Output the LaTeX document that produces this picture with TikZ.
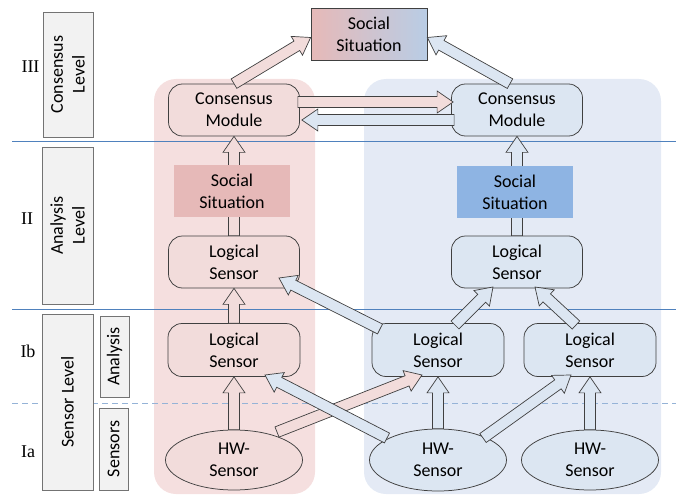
\documentclass[tikz,border=0pt]{standalone}
\usepackage{fontspec}
\setmainfont{Carlito}
\newfontfamily\romfont{Liberation Serif}
\usepackage{tikz}
\usetikzlibrary{calc,shapes.geometric}
\definecolor{panelpink}{RGB}{245,223,223}
\definecolor{panelblue}{RGB}{228,234,245}
\definecolor{modpink}{RGB}{242,220,219}
\definecolor{modblue}{RGB}{220,230,242}
\definecolor{sitpink}{RGB}{230,185,184}
\definecolor{sitblue}{RGB}{142,180,227}
\definecolor{gradblue}{RGB}{185,205,229}
\definecolor{levelline}{RGB}{79,129,189}
\definecolor{dashline}{RGB}{149,179,215}
\tikzset{
  module/.style={draw=black!75, line width=.75pt, rounded corners=14pt, minimum width=131pt, minimum height=52pt, align=center, inner sep=0pt},
  hwsensor/.style={ellipse, draw=black!75, line width=.75pt, minimum width=137pt, minimum height=60pt, align=center, inner sep=0pt},
  situation/.style={minimum width=116pt, minimum height=52pt, align=center, inner sep=0pt},
  levelbox/.style={draw=black!55, line width=.75pt, fill=black!5, rotate=90, align=center, inner sep=0pt},
  pinkarrow/.style={fill=modpink, draw=black!75, line width=.7pt, line join=miter},
  bluearrow/.style={fill=modblue, draw=black!75, line width=.7pt, line join=miter}
}
% block arrow: style, from, to
\newcommand{\blockarrow}[3]{%
  \coordinate (ba) at #2; \coordinate (bb) at #3;
  \filldraw[#1] let \p1=($(bb)-(ba)$), \n1={atan2(\y1,\x1)}, \n2={veclen(\x1,\y1)-16} in
    ($(ba)+(\n1+90:5.5pt)$) -- ($(ba)+(\n1:\n2)+(\n1+90:5.5pt)$) -- ($(ba)+(\n1:\n2)+(\n1+90:11pt)$) -- (bb)
    -- ($(ba)+(\n1:\n2)+(\n1-90:11pt)$) -- ($(ba)+(\n1:\n2)+(\n1-90:5.5pt)$) -- ($(ba)+(\n1-90:5.5pt)$) -- cycle;}

\begin{document}
\begin{tikzpicture}[x=1pt,y=-1pt,every node/.style={font=\fontsize{18}{21.7}\selectfont}]
\useasboundingbox (0,0) rectangle (686,495);
%panels
\fill[panelpink, rounded corners=22pt] (154,79) rectangle (315,494);
\fill[panelblue, rounded corners=22pt] (364,79) rectangle (661,494);
%level lines
\draw[levelline, line width=1pt] (12,141.5) -- (676,141.5);
\draw[levelline, line width=1pt] (12,309) -- (676,309);
\draw[dashline, line width=1pt, dash pattern=on 6pt off 4pt] (12,403) -- (676,403);
%level labels
\node[levelbox, minimum width=125pt, minimum height=50pt] (lvCons) at (68,74.5) {Consensus\\Level};
\node[levelbox, minimum width=157pt, minimum height=51pt] (lvAna) at (67.5,225.5) {Analysis\\Level};
\node[levelbox, minimum width=176pt, minimum height=51pt] (lvSens) at (67.5,402) {Sensor Level};
\node[levelbox, minimum width=81pt, minimum height=29pt] (lvSubA) at (114.5,356.5) {Analysis};
\node[levelbox, minimum width=82pt, minimum height=29pt] (lvSubS) at (113.5,449) {Sensors};
\node[font=\romfont\fontsize{18}{20}\selectfont] (rIII) at (30.5,67) {III};
\node[font=\romfont\fontsize{18}{20}\selectfont] (rII) at (27,219) {II};
\node[font=\romfont\fontsize{18}{20}\selectfont] (rIb) at (28,351) {Ib};
\node[font=\romfont\fontsize{18}{20}\selectfont] (rIa) at (28,452) {Ia};
%level III
\node[situation, draw=black!75, line width=.75pt, left color=sitpink, right color=gradblue] (ssT) at (369,34.5) {Social\\Situation};
\node[module, fill=modpink] (cmL) at (234,110) {Consensus\\Module};
\node[module, fill=modblue] (cmR) at (517,110) {Consensus\\Module};
%level II
\node[module, fill=modpink] (lsL2) at (234,262) {Logical\\Sensor};
\node[module, fill=modblue] (lsR2) at (517,262) {Logical\\Sensor};
%level Ib
\node[module, fill=modpink, minimum width=132pt, minimum height=53pt] (lsL1) at (234,350) {Logical\\Sensor};
\node[module, fill=modblue, minimum width=132pt, minimum height=53pt] (lsM1) at (438,350) {Logical\\Sensor};
\node[module, fill=modblue, minimum width=132pt, minimum height=53pt] (lsR1) at (590,350) {Logical\\Sensor};
%level Ia
\node[hwsensor, fill=modpink] (hwL) at (234,460) {HW-\\Sensor};
\node[hwsensor, fill=modblue, minimum height=62pt] (hwM) at (438,460) {HW-\\Sensor};
\node[hwsensor, fill=modblue] (hwR) at (590,460) {HW-\\Sensor};
%consensus arrows
\blockarrow{pinkarrow}{(cmL.north)}{($(ssT.west)+(0,3)$)}
\blockarrow{bluearrow}{($(cmR.north)+(-7,0)$)}{($(ssT.east)+(0,3)$)}
\blockarrow{pinkarrow}{($(cmL.east)+(-2,-8)$)}{($(cmR.west)+(2,-8)$)}
\blockarrow{bluearrow}{($(cmR.west)+(3,10)$)}{($(cmL.east)+(2,10)$)}
%analysis arrows
\blockarrow{pinkarrow}{(lsL2.north)}{(cmL.south)}
\blockarrow{bluearrow}{(lsR2.north)}{(cmR.south)}
\blockarrow{pinkarrow}{(lsL1.north)}{(lsL2.south)}
\blockarrow{bluearrow}{($(lsM1)+(-58,-21)$)}{($(lsL2)+(45,16)$)}
\blockarrow{bluearrow}{($(lsM1)+(17,-25)$)}{($(lsR2)+(-24,25)$)}
\blockarrow{bluearrow}{($(lsR1)+(-14,-25)$)}{($(lsR2)+(18,25)$)}
%sensor arrows
\blockarrow{pinkarrow}{(hwL.north)}{(lsL1.south)}
\blockarrow{pinkarrow}{($(hwL)+(43,-28)$)}{($(lsM1)+(-16,25)$)}
\blockarrow{bluearrow}{($(hwM)+(-51,-22)$)}{($(lsL1)+(31,25)$)}
\blockarrow{bluearrow}{(hwM.north)}{(lsM1.south)}
\blockarrow{bluearrow}{($(hwM)+(45,-22)$)}{($(lsR1)+(-19,25)$)}
\blockarrow{bluearrow}{(hwR.north)}{(lsR1.south)}
%situations on top of the shafts
\node[situation, fill=sitpink] (ssL) at (232,191) {Social\\Situation};
\node[situation, fill=sitblue] (ssR) at (515,192) {Social\\Situation};
\end{tikzpicture}
\end{document}
